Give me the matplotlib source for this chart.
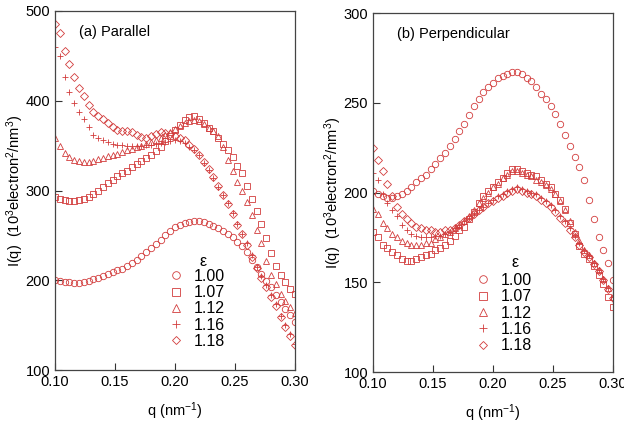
import numpy as np
import matplotlib
matplotlib.use("Agg")
import matplotlib.pyplot as plt

plt.rcParams["font.family"] = ["Liberation Sans", "DejaVu Sans"]
plt.rcParams["mathtext.default"] = "regular"

# q grid (nm^-1), step 0.004
q = np.linspace(0.10, 0.30, 51)

eps_labels = ["1.00", "1.07", "1.12", "1.16", "1.18"]
markers = ["o", "s", "^", "+", "D"]

# (a) Parallel
par_100 = [200, 199, 198, 198, 197, 197, 198, 199, 201, 203, 205, 207, 209, 211, 213, 216, 219,
           223, 227, 231, 236, 240, 245, 250, 255, 259, 262, 264, 265, 266, 266, 265, 263, 261,
           258, 255, 252, 248, 243, 238, 231, 223, 215, 207, 199, 192, 184, 176, 168, 161, 154]
par_107 = [293, 291, 289, 288, 288, 289, 291, 293, 296, 300, 304, 308, 312, 316, 319, 322, 326,
           330, 333, 336, 340, 344, 349, 355, 361, 367, 373, 378, 382, 383, 380, 375, 370, 366,
           359, 352, 345, 337, 327, 319, 305, 290, 277, 263, 247, 230, 216, 206, 198, 190, 185]
par_112 = [358, 350, 342, 337, 334, 333, 332, 332, 333, 335, 336, 338, 340, 341, 343, 345, 346,
           348, 350, 352, 354, 356, 359, 362, 365, 368, 372, 375, 377, 378, 377, 374, 370, 366,
           361, 349, 334, 322, 310, 299, 287, 273, 256, 241, 221, 206, 196, 185, 177, 170, 163]
par_116 = [460, 450, 426, 410, 398, 387, 380, 371, 362, 359, 356, 354, 352, 351, 351, 350, 350,
           350, 350, 351, 351, 352, 353, 354, 355, 356, 355, 353, 349, 345, 339, 331, 323, 314,
           304, 295, 286, 275, 263, 252, 241, 228, 215, 205, 195, 184, 174, 160, 150, 140, 129]
par_118 = [485, 475, 455, 441, 426, 414, 405, 395, 388, 383, 380, 375, 371, 367, 366, 366, 365,
           362, 360, 359, 361, 363, 365, 364, 363, 361, 359, 356, 351, 346, 340, 332, 324, 315,
           305, 295, 285, 274, 262, 251, 239, 226, 214, 203, 192, 181, 171, 159, 148, 138, 128]

# (b) Perpendicular
perp_100 = [201, 199, 198, 197, 197, 198, 199, 201, 203, 206, 208, 210, 213, 216, 219, 222, 226,
            230, 234, 238, 243, 248, 252, 256, 259, 261, 264, 265, 266, 267, 267, 266, 264, 262,
            259, 255, 252, 248, 244, 238, 232, 226, 220, 214, 207, 196, 185, 175, 168, 161, 151]
perp_107 = [178, 175, 171, 169, 167, 165, 163, 162, 162, 163, 164, 165, 166, 168, 169, 171, 173,
            176, 179, 181, 185, 189, 194, 198, 201, 203, 206, 208, 211, 213, 213, 212, 211, 210,
            209, 207, 205, 203, 199, 196, 191, 183, 177, 170, 166, 163, 159, 154, 149, 142, 136]
perp_112 = [191, 188, 183, 180, 177, 175, 173, 172, 171, 171, 171, 172, 172, 174, 175, 177, 178,
            180, 182, 184, 187, 190, 194, 197, 200, 203, 205, 208, 210, 212, 212, 211, 210, 209,
            207, 206, 204, 202, 199, 195, 190, 184, 178, 173, 168, 165, 161, 157, 152, 147, 142]
perp_116 = [211, 207, 199, 194, 190, 187, 182, 179, 177, 176, 175, 175, 175, 176, 176, 177, 178,
            180, 182, 184, 186, 188, 190, 192, 194, 196, 198, 199, 201, 202, 203, 202, 201, 200,
            199, 197, 195, 193, 190, 187, 184, 180, 176, 172, 168, 165, 161, 157, 152, 147, 142]
perp_118 = [225, 218, 212, 205, 198, 192, 188, 185, 183, 181, 180, 179, 179, 178, 178, 179, 179,
            180, 182, 184, 186, 188, 190, 192, 194, 195, 197, 198, 200, 201, 202, 201, 200, 199,
            198, 196, 194, 192, 189, 186, 183, 179, 175, 171, 167, 164, 160, 156, 151, 146, 141]

RED = "#d23c3c"


def draw_panel(ax, series, ylim, yticks, title, leg_xy, eps_xy):
    for vals, mk, lab in zip(series, markers, eps_labels):
        ms = 3.6 if mk == "D" else 4.6
        ax.plot(q, vals, linestyle="none", marker=mk, markersize=ms,
                markerfacecolor="none", markeredgecolor=RED, markeredgewidth=0.6,
                label=lab)
    ax.set_xlim(0.10, 0.30)
    ax.set_ylim(*ylim)
    ax.set_xticks([0.10, 0.15, 0.20, 0.25, 0.30])
    ax.set_xticklabels(["0.10", "0.15", "0.20", "0.25", "0.30"])
    ax.set_yticks(yticks)
    ax.tick_params(direction="in", length=5, width=0.8, labelsize=10.5,
                   top=False, right=False, colors="#333333", labelcolor="black")
    for sp in ax.spines.values():
        sp.set_color("#444444")
        sp.set_linewidth(0.9)
    ax.set_xlabel(r"q (nm$^{-1}$)", fontsize=10.5)
    ax.xaxis.set_label_coords(0.5, -0.085)
    ax.set_ylabel(r"I(q)  (10$^3$electron$^2$/nm$^3$)", fontsize=10.5)
    ax.yaxis.set_label_coords(-0.12, 0.5)
    ax.text(0.1, 0.93, title, transform=ax.transAxes, fontsize=10.5)
    ax.text(eps_xy[0], eps_xy[1], "ε", transform=ax.transAxes, fontsize=11.5,
            ha="center", va="center")
    leg = ax.legend(loc="upper left", bbox_to_anchor=leg_xy,
                    frameon=False, fontsize=11.5,
                    handletextpad=0.6, labelspacing=0.08, borderpad=0.2,
                    handlelength=1.0)
    for h, mk in zip(leg.legend_handles, markers):
        h.set_markersize(4.2 if mk == "D" else 5.5)


fig = plt.figure(figsize=(6.24, 4.28), dpi=100, facecolor="white")
ax1 = fig.add_axes([0.0881, 0.1355, 0.3846, 0.8388])
ax2 = fig.add_axes([0.5978, 0.1308, 0.3846, 0.8388])

draw_panel(ax1, [par_100, par_107, par_112, par_116, par_118],
           (100, 500), [100, 200, 300, 400, 500], "(a) Parallel",
           (0.425, 0.313), (0.617, 0.301))
draw_panel(ax2, [perp_100, perp_107, perp_112, perp_116, perp_118],
           (100, 300), [100, 150, 200, 250, 300], "(b) Perpendicular",
           (0.379, 0.307), (0.592, 0.306))

fig.savefig("out.png", dpi=100, facecolor="white")
